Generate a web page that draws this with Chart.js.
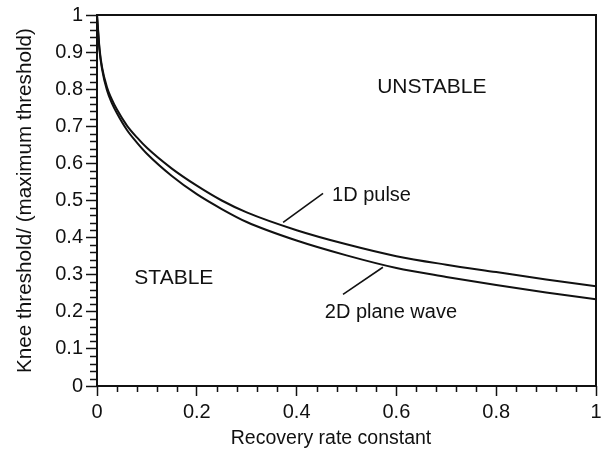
<!DOCTYPE html>
<html>
<head>
<meta charset="utf-8">
<script src="https://cdn.jsdelivr.net/npm/chart.js@4.4.1/dist/chart.umd.min.js"></script>
<style>
  html, body { margin: 0; padding: 0; background: #fff; }
  #wrap { width: 608px; height: 462px; }
</style>
</head>
<body>
<div id="wrap"><canvas id="kneeChart" width="608" height="462"></canvas></div>
<script>
// recovery rate constant, sampled along both curves
const rateValues = [0, 0.005, 0.01, 0.02, 0.03, 0.04, 0.06, 0.08, 0.1, 0.15, 0.2, 0.25, 0.3, 0.4, 0.5, 0.6, 0.7, 0.8, 0.9, 1.0];
// knee threshold / maximum threshold
const pulse1D     = [1.0, 0.91, 0.86, 0.805, 0.772, 0.745, 0.702, 0.670, 0.642, 0.586, 0.540, 0.500, 0.468, 0.420, 0.382, 0.350, 0.327, 0.307, 0.287, 0.269];
const planeWave2D = [1.0, 0.905, 0.855, 0.797, 0.762, 0.735, 0.690, 0.656, 0.626, 0.566, 0.517, 0.477, 0.442, 0.392, 0.352, 0.318, 0.294, 0.272, 0.252, 0.234];

const seriesNames = ['1D pulse', '2D plane wave'];

// text labels placed inside the plot (data units)
const noteTexts = ['UNSTABLE', 'STABLE', '1D pulse', '2D plane wave'];
const noteX     = [0.671, 0.154, 0.471, 0.589];
const noteY     = [0.806, 0.290, 0.513, 0.199];
const noteAlign = ['center', 'center', 'left', 'center'];

// leader lines from the labels to the curves (data units: x0, y0, x1, y1)
const leader1D = [0.373, 0.441, 0.453, 0.519];
const leader2D = [0.573, 0.320, 0.493, 0.247];

const xTitle = 'Recovery rate constant';
const yTitle = 'Knee threshold/ (maximum threshold)';

const ink = '#111';
const fontFamily = "'Liberation Sans', Arial, Helvetica, sans-serif";

Chart.defaults.font.family = fontFamily;
Chart.defaults.color = ink;

function toPoints(ys) {
    return rateValues.map((x, i) => ({ x: x, y: ys[i] }));
}

function plainNumber(value) {
    return String(Number(value.toFixed(2)));
}

const frameAndNotes = {
    id: 'frameAndNotes',
    afterDraw(chart) {
        const ctx = chart.ctx;
        const xs = chart.scales.x;
        const ys = chart.scales.y;
        const a = chart.chartArea;
        ctx.save();
        ctx.strokeStyle = ink;

        // plot frame
        ctx.lineWidth = 2;
        ctx.strokeRect(a.left, a.top, a.right - a.left, a.bottom - a.top);

        // minor ticks
        ctx.lineWidth = 1.5;
        ctx.beginPath();
        for (let i = 0; i <= 50; i++) {
            if (i % 5 === 0) continue;
            const py = Math.round(ys.getPixelForValue(i * 0.02)) + 0.5;
            ctx.moveTo(a.left - 7, py);
            ctx.lineTo(a.left, py);
        }
        for (let i = 0; i <= 25; i++) {
            if (i % 5 === 0) continue;
            const px = Math.round(xs.getPixelForValue(i * 0.04)) + 0.5;
            ctx.moveTo(px, a.bottom);
            ctx.lineTo(px, a.bottom + 6);
        }
        ctx.stroke();

        // leader lines
        ctx.lineWidth = 1.6;
        [leader1D, leader2D].forEach(l => {
            ctx.beginPath();
            ctx.moveTo(xs.getPixelForValue(l[0]), ys.getPixelForValue(l[1]));
            ctx.lineTo(xs.getPixelForValue(l[2]), ys.getPixelForValue(l[3]));
            ctx.stroke();
        });

        // notes
        ctx.fillStyle = ink;
        ctx.textBaseline = 'middle';
        noteTexts.forEach((t, i) => {
            ctx.font = (i < 2 ? '21px ' : '20px ') + fontFamily;
            ctx.textAlign = noteAlign[i];
            ctx.fillText(t, xs.getPixelForValue(noteX[i]), ys.getPixelForValue(noteY[i]));
        });

        // x axis title (sits a little left of centre in the original)
        ctx.font = '19.5px ' + fontFamily;
        ctx.textAlign = 'center';
        ctx.fillText(xTitle, xs.getPixelForValue(0.469), a.bottom + 53);
        ctx.restore();
    }
};

const ctx = document.getElementById('kneeChart').getContext('2d');

new Chart(ctx, {
    type: 'line',
    data: {
        datasets: [
            { label: seriesNames[0], data: toPoints(pulse1D) },
            { label: seriesNames[1], data: toPoints(planeWave2D) }
        ]
    },
    options: {
        responsive: false,
        animation: false,
        layout: { padding: { top: 14, right: 12, left: 0, bottom: 0 } },
        elements: {
            point: { radius: 0 },
            line: { borderColor: ink, borderWidth: 2, cubicInterpolationMode: 'monotone', fill: false }
        },
        plugins: {
            legend: { display: false },
            tooltip: { enabled: false }
        },
        scales: {
            x: {
                type: 'linear',
                min: 0,
                max: 1,
                border: { display: false },
                grid: { drawOnChartArea: false, drawTicks: true, tickLength: 10, tickWidth: 1.5, tickColor: ink },
                ticks: { stepSize: 0.2, padding: 4, color: ink, font: { size: 20 }, maxRotation: 0, callback: plainNumber },
                afterFit(scale) { scale.height = 76; }
            },
            y: {
                min: 0,
                max: 1,
                border: { display: false },
                grid: { drawOnChartArea: false, drawTicks: true, tickLength: 11, tickWidth: 1.5, tickColor: ink },
                ticks: { stepSize: 0.1, padding: 3, color: ink, font: { size: 20 }, callback: plainNumber },
                title: { display: true, text: yTitle, color: ink, font: { size: 20.7 }, padding: { top: 13, bottom: 0 } },
                afterFit(scale) { scale.width = 97; }
            }
        }
    },
    plugins: [frameAndNotes]
});
</script>
</body>
</html>
